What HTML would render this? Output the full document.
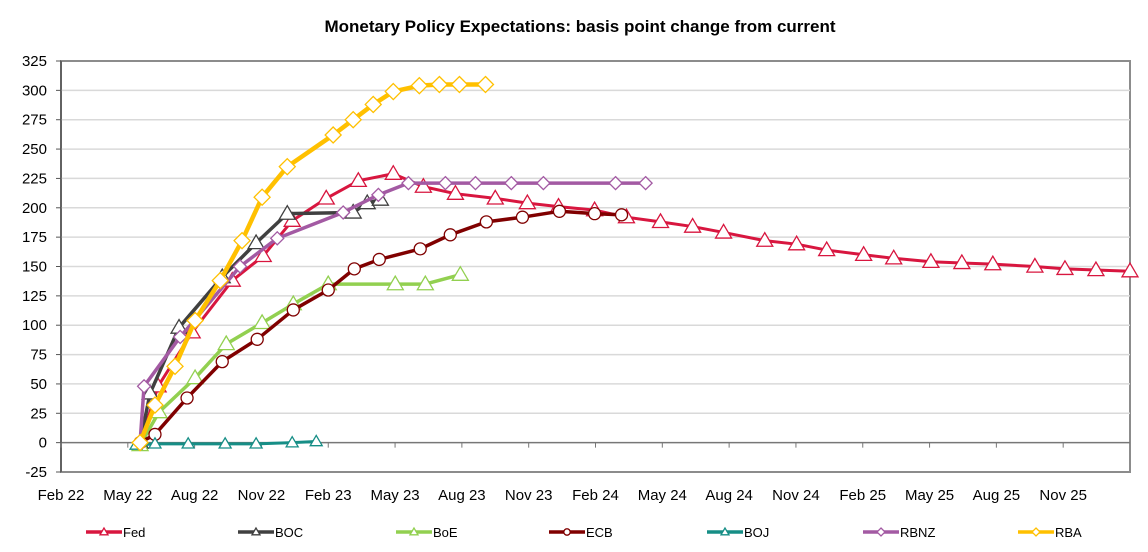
<!DOCTYPE html>
<html><head><meta charset="utf-8"><style>
body{margin:0;background:#fff;}
svg{display:block;font-family:"Liberation Sans",Arial,sans-serif;}
</style></head><body>
<svg id="chart" width="1148" height="552">
<text x="580" y="32" text-anchor="middle" font-size="17" font-weight="bold" fill="#000">Monetary Policy Expectations: basis point change from current</text>
<g id="grid"></g><g id="axes"></g><g id="series"></g><g id="legend"></g>
</svg>
<script>
// months since Feb 2022
const xTicks = ["Feb 22","May 22","Aug 22","Nov 22","Feb 23","May 23","Aug 23","Nov 23","Feb 24","May 24","Aug 24","Nov 24","Feb 25","May 25","Aug 25","Nov 25"];
const yTicks = [-25,0,25,50,75,100,125,150,175,200,225,250,275,300,325];
const fedX = [3.55,4.36,5.89,7.69,9.08,10.38,11.91,13.35,14.92,16.27,17.71,19.5,20.94,22.34,23.96,25.39,26.92,28.36,29.75,31.6,33.03,34.38,36.04,37.39,39.06,40.45,41.84,43.73,45.08,46.47,48.0];
const fedY = [0,48,94,138,159,189,208,223,229,218,212,208,204,201,198,192,188,184,179,172,169,164,160,157,154,153,152,150,148,147,146];
const bocX = [3.55,4.0,5.3,7.24,8.76,10.16,13.12,13.75,14.34];
const bocY = [0,42,98,141,170,195,196,204,207];
const boeX = [3.55,4.4,6.02,7.42,9.03,10.43,12.0,15.01,16.36,17.93];
const boeY = [-2,26,55,84,102,118,135,135,135,143];
const ecbX = [3.55,4.22,5.66,7.24,8.81,10.43,12.0,13.17,14.29,16.13,17.48,19.1,20.72,22.38,23.96,25.17];
const ecbY = [0,7,38,69,88,113,130,148,156,165,177,188,192,197,195,194];
const bojX = [3.37,4.22,5.71,7.37,8.76,10.38,11.46];
const bojY = [-2,-1,-1,-1,-1,0,1];
const rbnzX = [3.55,3.73,5.35,8.04,9.71,12.67,14.25,15.6,17.26,18.61,20.22,21.66,24.9,26.25];
const rbnzY = [0,48,90,150,174,196,211,221,221,221,221,221,221,221];
const rbaX = [3.55,4.22,5.12,6.02,7.15,8.13,9.03,10.16,12.22,13.12,14.02,14.92,16.09,16.99,17.89,19.06];
const rbaY = [0,32,65,104,138,172,209,235,262,275,288,299,304,305,305,305];
const seriesNames = ["Fed","BOC","BoE","ECB","BOJ","RBNZ","RBA"];

const NS="http://www.w3.org/2000/svg";
const L=61,R=1130,T=61,B=472;
const xs=m=>L+(m/48)*(R-L);
const ys=v=>B-((v+25)/350)*(B-T);
function mk(tag,attrs,parent){const e=document.createElementNS(NS,tag);for(const k in attrs)e.setAttribute(k,attrs[k]);parent.appendChild(e);return e;}
const grid=document.getElementById('grid'),axes=document.getElementById('axes'),ser=document.getElementById('series'),leg=document.getElementById('legend');
mk('rect',{x:L,y:T,width:R-L,height:B-T,fill:'#fff',stroke:'#8c8c8c','stroke-width':2},grid);
yTicks.forEach(v=>{
  if(v!==-25&&v!==325&&v!==0){const g=mk('line',{x1:L,x2:R,y1:ys(v),y2:ys(v),stroke:'#d9d9d9','stroke-width':1.5},grid);
  
  }
  const t=mk('text',{x:47,y:ys(v)+5,'text-anchor':'end','font-size':15,fill:'#000'},axes);t.textContent=v;
  
  
  mk('line',{x1:L-5,x2:L,y1:ys(v),y2:ys(v),stroke:'#555','stroke-width':1},axes);
});
mk('line',{x1:L,x2:R,y1:ys(0),y2:ys(0),stroke:'#777','stroke-width':1.5},axes);
mk('line',{x1:L,x2:L,y1:T,y2:B,stroke:'#555','stroke-width':1.5},axes);
xTicks.forEach((s,i)=>{
  const x=xs(i*3);
  mk('line',{x1:x,x2:x,y1:ys(0),y2:ys(0)+5,stroke:'#777','stroke-width':1},axes);
  const t=mk('text',{x:x,y:500,'text-anchor':'middle','font-size':15,fill:'#000'},axes);t.textContent=s;
  
  
});
function marker(type,x,y,color,p,sz){
  if(type==='tri') return mk('polygon',{points:`${x},${y-sz} ${x-sz},${y+sz*0.7} ${x+sz},${y+sz*0.7}`,fill:'#fff',stroke:color,'stroke-width':1.3},p);
  if(type==='dia') return mk('polygon',{points:`${x},${y-sz} ${x+sz},${y} ${x},${y+sz} ${x-sz},${y}`,fill:'#fff',stroke:color,'stroke-width':1.3},p);
  return mk('circle',{cx:x,cy:y,r:sz*0.8,fill:'#fff',stroke:color,'stroke-width':1.3},p);
}
const defs=[
 [fedX,fedY,'#d8163f','tri',3,8,'fed'],
 [bocX,bocY,'#404040','tri',3.5,8,'boc'],
 [boeX,boeY,'#92d050','tri',3.5,8,'boe'],
 [ecbX,ecbY,'#800000','circ',3.5,7.5,'ecb'],
 [bojX,bojY,'#168e86','tri',3,6,'boj'],
 [rbnzX,rbnzY,'#a35aa3','dia',3.5,6.5,'rbnz'],
 [rbaX,rbaY,'#ffc000','dia',4.5,8,'rba']];
defs.forEach(([X,Y,c,m,w,sz,n])=>{
  const g=mk('g',{},ser);
  
  
  const pl=mk('polyline',{points:X.map((x,i)=>xs(x)+','+ys(Y[i])).join(' '),fill:'none',stroke:c,'stroke-width':w,'stroke-linejoin':'round'},g);
  
  
  X.forEach((x,i)=>{const e=marker(m,xs(x),ys(Y[i]),c,g,sz);
    
    });
});
const legX=[86,238,396,549,707,863,1018];
seriesNames.forEach((s,i)=>{
  const d=defs[i];const g=mk('g',{},leg);
  
  
  mk('line',{x1:legX[i],x2:legX[i]+36,y1:532,y2:532,stroke:d[2],'stroke-width':3.5},g);
  marker(d[3],legX[i]+18,532,d[2],g,4);
  const t=mk('text',{x:legX[i]+37,y:537,'font-size':13,fill:'#000'},g);t.textContent=s;
});
</script>
</body></html>
